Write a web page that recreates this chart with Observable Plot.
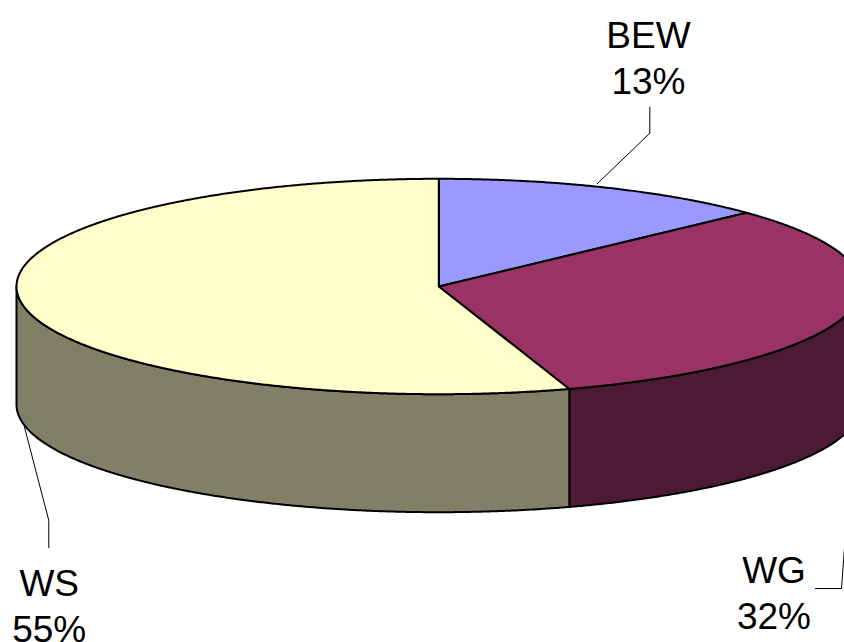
<!DOCTYPE html>
<html>
<head>
<meta charset="utf-8">
<script src="https://cdn.jsdelivr.net/npm/d3@7"></script>
<script src="https://cdn.jsdelivr.net/npm/@observablehq/plot@0.6"></script>
<style>
  html, body { margin: 0; padding: 0; background: #ffffff; }
  #chart svg { display: block; overflow: hidden; }
</style>
</head>
<body>
<div id="chart"></div>
<script>
// Slice data
const categories = ["BEW", "WG", "WS"];
const shares = [13, 32, 55];
const topColors = ["#9999FF", "#993366", "#FFFFCC"];
const sideColors = ["#4D4D80", "#4D1A33", "#808066"];

// Geometry of the tilted disc (pixel units)
const W = 844, H = 642;
const cx = 438.3, cy = 286, rx = 422.3, ry = 107.7, depth = 118;

const rim = (t, dz = 0) => [cx + rx * Math.sin(t), cy - ry * Math.cos(t) + dz];
const arc = (a0, a1, dz) => {
  const n = Math.max(2, Math.ceil((a1 - a0) / 0.005));
  return d3.range(n + 1).map(k => rim(a0 + (a1 - a0) * k / n, dz));
};

// Slice angles, clockwise from 12 o'clock
const total = d3.sum(shares);
let acc = 0;
const slices = categories.map((c, i) => {
  const a0 = acc / total * 2 * Math.PI;
  acc += shares[i];
  const a1 = acc / total * 2 * Math.PI;
  return {c, i, a0, a1, share: shares[i]};
});

// Top faces: centre -> arc -> centre
const tops = slices.flatMap(s =>
  [[cx, cy], ...arc(s.a0, s.a1, 0), [cx, cy]]
    .map(([x, y]) => ({x, y, key: s.c, color: topColors[s.i]}))
);

// Front walls: only the part of the rim facing the viewer (90°..270°)
const sides = slices.flatMap(s => {
  const b0 = Math.max(s.a0, Math.PI / 2), b1 = Math.min(s.a1, 3 * Math.PI / 2);
  if (b1 <= b0) return [];
  return [...arc(b0, b1, 0), ...arc(b0, b1, depth).reverse(), rim(b0, 0)]
    .map(([x, y]) => ({x, y, key: s.c, color: sideColors[s.i]}));
});

// Label placement and leader lines
const labelPos = {BEW: [648, 15], WG: [773.5, 550], WS: [48.7, 563.3]};
const leaderPts = {
  BEW: [[596.7, 183.3], [649.3, 132.7], [649.3, 106.7]],
  WG: [[853, 424], [841, 588], [815, 588]],
  WS: [[24, 426.7], [48.3, 520], [48.3, 547.3]]
};
const labels = slices.map(s => ({x: labelPos[s.c][0], y: labelPos[s.c][1], text: `${s.c}\n${s.share}%`}));
const leaders = slices.flatMap(s => leaderPts[s.c].map(([x, y]) => ({x, y, key: s.c})));

const chart = Plot.plot({
  width: W,
  height: H,
  margin: 0,
  x: {domain: [0, W], range: [0, W], axis: null},
  y: {domain: [0, H], range: [0, H], axis: null},
  color: {type: "identity"},
  style: {background: "#ffffff"},
  marks: [
    Plot.line(sides, {x: "x", y: "y", z: "key", fill: "color", stroke: "#000000", strokeWidth: 2, strokeLinejoin: "round"}),
    Plot.line(tops, {x: "x", y: "y", z: "key", fill: "color", stroke: "#000000", strokeWidth: 2, strokeLinejoin: "round"}),
    Plot.line(leaders, {x: "x", y: "y", z: "key", stroke: "#000000", strokeWidth: 1}),
    Plot.text(labels, {
      x: "x", y: "y", text: "text",
      fontSize: 37, fontFamily: "'Liberation Sans', Arial, sans-serif",
      lineAnchor: "top", lineHeight: 1.243, textAnchor: "middle", fill: "#000000"
    })
  ]
});

document.getElementById("chart").append(chart);
</script>
</body>
</html>
